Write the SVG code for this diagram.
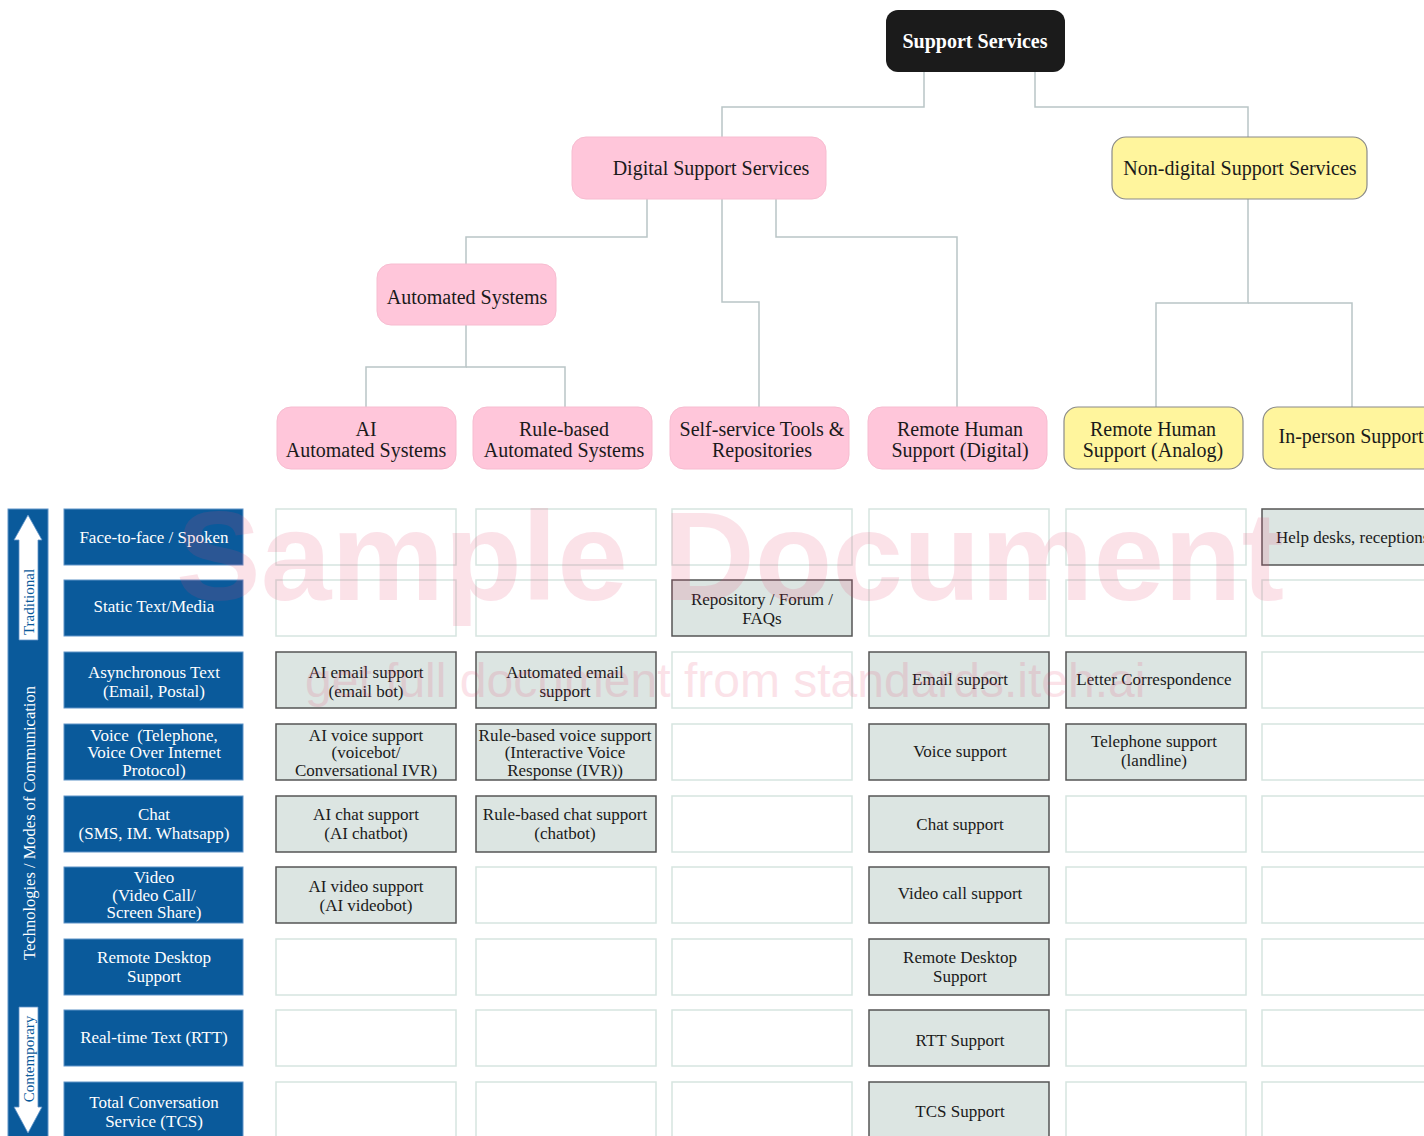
<svg xmlns="http://www.w3.org/2000/svg" width="1424" height="1136" viewBox="0 0 1424 1136">
<style>
text{font-family:"Liberation Serif","DejaVu Serif",serif;dominant-baseline:central;text-anchor:middle;}
.t{font-size:20px;fill:#1a1a1a;}
.c{font-size:17px;fill:#1a1a1a;}
.l{font-size:17px;fill:#ffffff;}
.pink{fill:#ffc6da;stroke:#f7bcd0;stroke-width:1;}
.yel{fill:#fff59d;stroke:#8a8a8a;stroke-width:1.2;}
.blue{fill:#0a5a9b;stroke:#5f93c8;stroke-width:1;}
.empty{fill:#ffffff;stroke:#d6e5e0;stroke-width:1.5;}
.full{fill:#dce5e2;stroke:#555555;stroke-width:1.5;}
.conn{fill:none;stroke:#b9c5c6;stroke-width:1.5;}
</style>

<g id="connectors">
<path class="conn" d="M924 72V107H722V137"/>
<path class="conn" d="M1035 72V107H1248V137"/>
<path class="conn" d="M647 199V237H466V264"/>
<path class="conn" d="M722 199V302H759V407"/>
<path class="conn" d="M776 199V237H957V407"/>
<path class="conn" d="M466 325V367H366V407"/>
<path class="conn" d="M466 367H565V407"/>
<path class="conn" d="M1248 199V303H1156V407"/>
<path class="conn" d="M1248 303H1352V407"/>
</g>

<g id="support-services">
<rect x="886" y="10" width="179" height="62" rx="12" fill="#1b1b1b"/>
<text x="975" y="41" style="font-size:20px;font-weight:bold;fill:#ffffff">Support Services</text>
</g>
<g id="digital-support-services">
<rect class="pink" x="572" y="137" width="254" height="62" rx="14"/>
<text class="t" x="711" y="168">Digital Support Services</text>
</g>
<g id="non-digital-support-services">
<rect class="yel" x="1112" y="137" width="255" height="62" rx="14"/>
<text class="t" x="1240" y="168">Non-digital Support Services</text>
</g>
<g id="automated-systems">
<rect class="pink" x="377" y="264" width="179" height="61" rx="14"/>
<text class="t" x="467" y="297">Automated Systems</text>
</g>
<g id="ai-automated-systems">
<rect class="pink" x="277" y="407" width="179" height="62" rx="14"/>
<text class="t" x="366" y="429">AI</text>
<text class="t" x="366" y="450">Automated Systems</text>
</g>
<g id="rule-based-automated-systems">
<rect class="pink" x="473" y="407" width="179" height="62" rx="14"/>
<text class="t" x="564" y="429">Rule-based</text>
<text class="t" x="564" y="450">Automated Systems</text>
</g>
<g id="self-service-tools">
<rect class="pink" x="670" y="407" width="179" height="62" rx="14"/>
<text class="t" x="762" y="429">Self-service Tools &amp;</text>
<text class="t" x="762" y="450">Repositories</text>
</g>
<g id="remote-human-digital">
<rect class="pink" x="868" y="407" width="179" height="62" rx="14"/>
<text class="t" x="960" y="429">Remote Human</text>
<text class="t" x="960" y="450">Support (Digital)</text>
</g>
<g id="remote-human-analog">
<rect class="yel" x="1064" y="407" width="179" height="62" rx="14"/>
<text class="t" x="1153" y="429">Remote Human</text>
<text class="t" x="1153" y="450">Support (Analog)</text>
</g>
<g id="in-person-support">
<rect class="yel" x="1263" y="407" width="180" height="62" rx="14"/>
<text class="t" x="1351" y="436">In-person Support</text>
</g>

<g id="axis">
<rect class="blue" x="8" y="509" width="40" height="640"/>
<polygon points="28,515 42,540 38,540 38,640 19,640 19,540 14,540" fill="#ffffff" stroke="#5f93c8" stroke-width="0.8"/>
<polygon points="19,1007 38,1007 38,1107 42,1107 28,1133 14,1107 19,1107" fill="#ffffff" stroke="#5f93c8" stroke-width="0.8"/>
<text transform="translate(29,602) rotate(-90)" style="font-size:15px;fill:#0a5a9b">Traditional</text>
<text transform="translate(29,823) rotate(-90)" style="font-size:16.5px;fill:#ffffff">Technologies / Modes of Communication</text>
<text transform="translate(29,1059) rotate(-90)" style="font-size:15px;fill:#0a5a9b">Contemporary</text>
</g>

<g id="row-labels">
<g id="label-face-to-face"><rect class="blue" x="64" y="509" width="179" height="56"/><text class="l" x="154" y="537">Face-to-face / Spoken</text></g>
<g id="label-static"><rect class="blue" x="64" y="580" width="179" height="56"/><text class="l" x="154" y="606">Static Text/Media</text></g>
<g id="label-async"><rect class="blue" x="64" y="652" width="179" height="56"/><text class="l" x="154" y="672">Asynchronous Text</text><text class="l" x="154" y="691">(Email, Postal)</text></g>
<g id="label-voice"><rect class="blue" x="64" y="724" width="179" height="56"/><text class="l" x="154" y="735" style="white-space:pre">Voice  (Telephone,</text><text class="l" x="154" y="752.5">Voice Over Internet</text><text class="l" x="154" y="770">Protocol)</text></g>
<g id="label-chat"><rect class="blue" x="64" y="796" width="179" height="56"/><text class="l" x="154" y="814">Chat</text><text class="l" x="154" y="833">(SMS, IM. Whatsapp)</text></g>
<g id="label-video"><rect class="blue" x="64" y="867" width="179" height="56"/><text class="l" x="154" y="877.5">Video</text><text class="l" x="154" y="895">(Video Call/</text><text class="l" x="154" y="912.5">Screen Share)</text></g>
<g id="label-remote-desktop"><rect class="blue" x="64" y="939" width="179" height="56"/><text class="l" x="154" y="957">Remote Desktop</text><text class="l" x="154" y="976">Support</text></g>
<g id="label-rtt"><rect class="blue" x="64" y="1010" width="179" height="56"/><text class="l" x="154" y="1037">Real-time Text (RTT)</text></g>
<g id="label-tcs"><rect class="blue" x="64" y="1082" width="179" height="56"/><text class="l" x="154" y="1102">Total Conversation</text><text class="l" x="154" y="1121">Service (TCS)</text></g>
</g>

<g id="grid">
<rect class="empty" x="276" y="509" width="180" height="56"/>
<rect class="empty" x="476" y="509" width="180" height="56"/>
<rect class="empty" x="672" y="509" width="180" height="56"/>
<rect class="empty" x="869" y="509" width="180" height="56"/>
<rect class="empty" x="1066" y="509" width="180" height="56"/>
<g id="cell-help-desks"><rect class="full" x="1262" y="509" width="200" height="56"/><text class="c" x="1276" y="537" style="text-anchor:start">Help desks, receptions</text></g>
<rect class="empty" x="276" y="580" width="180" height="56"/>
<rect class="empty" x="476" y="580" width="180" height="56"/>
<g id="cell-repository"><rect class="full" x="672" y="580" width="180" height="56"/><text class="c" x="762" y="599">Repository / Forum /</text><text class="c" x="762" y="618">FAQs</text></g>
<rect class="empty" x="869" y="580" width="180" height="56"/>
<rect class="empty" x="1066" y="580" width="180" height="56"/>
<rect class="empty" x="1262" y="580" width="180" height="56"/>
<g id="cell-ai-email"><rect class="full" x="276" y="652" width="180" height="56"/><text class="c" x="366" y="672">AI email support</text><text class="c" x="366" y="691">(email bot)</text></g>
<g id="cell-automated-email"><rect class="full" x="476" y="652" width="180" height="56"/><text class="c" x="565" y="672">Automated email</text><text class="c" x="565" y="691">support</text></g>
<rect class="empty" x="672" y="652" width="180" height="56"/>
<g id="cell-email"><rect class="full" x="869" y="652" width="180" height="56"/><text class="c" x="960" y="679">Email support</text></g>
<g id="cell-letter"><rect class="full" x="1066" y="652" width="180" height="56"/><text class="c" x="1154" y="679">Letter Correspondence</text></g>
<rect class="empty" x="1262" y="652" width="180" height="56"/>
<g id="cell-ai-voice"><rect class="full" x="276" y="724" width="180" height="56"/><text class="c" x="366" y="735">AI voice support</text><text class="c" x="366" y="752.5">(voicebot/</text><text class="c" x="366" y="770">Conversational IVR)</text></g>
<g id="cell-rule-voice"><rect class="full" x="476" y="724" width="180" height="56"/><text class="c" x="565" y="735">Rule-based voice support</text><text class="c" x="565" y="752.5">(Interactive Voice</text><text class="c" x="565" y="770">Response (IVR))</text></g>
<rect class="empty" x="672" y="724" width="180" height="56"/>
<g id="cell-voice"><rect class="full" x="869" y="724" width="180" height="56"/><text class="c" x="960" y="751">Voice support</text></g>
<g id="cell-telephone"><rect class="full" x="1066" y="724" width="180" height="56"/><text class="c" x="1154" y="741">Telephone support</text><text class="c" x="1154" y="760">(landline)</text></g>
<rect class="empty" x="1262" y="724" width="180" height="56"/>
<g id="cell-ai-chat"><rect class="full" x="276" y="796" width="180" height="56"/><text class="c" x="366" y="814">AI chat support</text><text class="c" x="366" y="833">(AI chatbot)</text></g>
<g id="cell-rule-chat"><rect class="full" x="476" y="796" width="180" height="56"/><text class="c" x="565" y="814">Rule-based chat support</text><text class="c" x="565" y="833">(chatbot)</text></g>
<rect class="empty" x="672" y="796" width="180" height="56"/>
<g id="cell-chat"><rect class="full" x="869" y="796" width="180" height="56"/><text class="c" x="960" y="824">Chat support</text></g>
<rect class="empty" x="1066" y="796" width="180" height="56"/>
<rect class="empty" x="1262" y="796" width="180" height="56"/>
<g id="cell-ai-video"><rect class="full" x="276" y="867" width="180" height="56"/><text class="c" x="366" y="886">AI video support</text><text class="c" x="366" y="905">(AI videobot)</text></g>
<rect class="empty" x="476" y="867" width="180" height="56"/>
<rect class="empty" x="672" y="867" width="180" height="56"/>
<g id="cell-video"><rect class="full" x="869" y="867" width="180" height="56"/><text class="c" x="960" y="893">Video call support</text></g>
<rect class="empty" x="1066" y="867" width="180" height="56"/>
<rect class="empty" x="1262" y="867" width="180" height="56"/>
<rect class="empty" x="276" y="939" width="180" height="56"/>
<rect class="empty" x="476" y="939" width="180" height="56"/>
<rect class="empty" x="672" y="939" width="180" height="56"/>
<g id="cell-remote-desktop"><rect class="full" x="869" y="939" width="180" height="56"/><text class="c" x="960" y="957">Remote Desktop</text><text class="c" x="960" y="976">Support</text></g>
<rect class="empty" x="1066" y="939" width="180" height="56"/>
<rect class="empty" x="1262" y="939" width="180" height="56"/>
<rect class="empty" x="276" y="1010" width="180" height="56"/>
<rect class="empty" x="476" y="1010" width="180" height="56"/>
<rect class="empty" x="672" y="1010" width="180" height="56"/>
<g id="cell-rtt"><rect class="full" x="869" y="1010" width="180" height="56"/><text class="c" x="960" y="1040">RTT Support</text></g>
<rect class="empty" x="1066" y="1010" width="180" height="56"/>
<rect class="empty" x="1262" y="1010" width="180" height="56"/>
<rect class="empty" x="276" y="1082" width="180" height="60"/>
<rect class="empty" x="476" y="1082" width="180" height="60"/>
<rect class="empty" x="672" y="1082" width="180" height="60"/>
<g id="cell-tcs"><rect class="full" x="869" y="1082" width="180" height="60"/><text class="c" x="960" y="1111">TCS Support</text></g>
<rect class="empty" x="1066" y="1082" width="180" height="60"/>
<rect class="empty" x="1262" y="1082" width="180" height="60"/>
</g>

<g id="watermark" style="fill:#e6416e;opacity:0.15">
<text x="730" y="600" style="font-family:'Liberation Sans',Arial,sans-serif;font-size:127px;font-weight:bold;dominant-baseline:alphabetic">Sample Document</text>
<text x="305" y="697" style="font-family:'Liberation Sans',Arial,sans-serif;font-size:48px;text-anchor:start;dominant-baseline:alphabetic">get full document from standards.iteh.ai</text>
</g>
</svg>
